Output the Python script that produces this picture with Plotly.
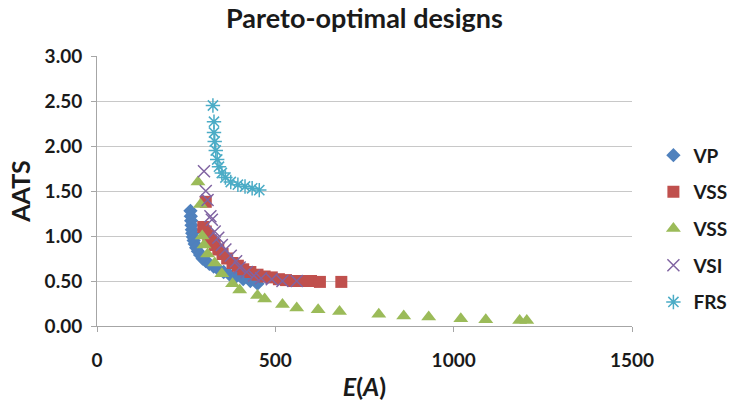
import plotly.graph_objects as go

vp_x = [262, 263, 264, 265, 266, 267, 269, 271, 274, 278, 283, 289, 296, 305, 315, 327, 340, 355, 372, 390, 410, 430, 450]
vp_y = [1.28, 1.22, 1.17, 1.12, 1.07, 1.03, 0.99, 0.95, 0.91, 0.87, 0.83, 0.79, 0.75, 0.72, 0.69, 0.66, 0.63, 0.60, 0.57, 0.55, 0.52, 0.50, 0.47]

vss_x = [305, 298, 305, 312, 320, 330, 340, 352, 365, 380, 395, 410, 430, 450, 470, 490, 510, 530, 550, 575, 600, 625, 685]
vss_y = [1.38, 1.10, 1.05, 1.00, 0.95, 0.90, 0.85, 0.80, 0.75, 0.70, 0.67, 0.63, 0.60, 0.57, 0.55, 0.54, 0.52, 0.51, 0.50, 0.50, 0.50, 0.49, 0.49]

vss2_x = [283, 290, 295, 300, 310, 330, 350, 380, 400, 450, 470, 520, 560, 620, 680, 790, 860, 930, 1020, 1090, 1185, 1205]
vss2_y = [1.60, 1.35, 1.00, 0.90, 0.80, 0.70, 0.58, 0.47, 0.40, 0.34, 0.30, 0.24, 0.20, 0.18, 0.16, 0.13, 0.11, 0.10, 0.08, 0.07, 0.06, 0.06]

vsi_x = [300, 305, 310, 318, 322, 330, 340, 350, 360, 375, 390, 400, 420, 440, 460, 490, 520, 560]
vsi_y = [1.72, 1.50, 1.40, 1.22, 1.18, 1.05, 0.98, 0.90, 0.85, 0.78, 0.72, 0.65, 0.60, 0.56, 0.53, 0.52, 0.50, 0.50]

frs_x = [325, 328, 328, 330, 333, 337, 342, 350, 360, 375, 395, 415, 435, 455]
frs_y = [2.45, 2.27, 2.15, 2.05, 1.95, 1.85, 1.77, 1.70, 1.65, 1.60, 1.57, 1.55, 1.53, 1.51]

x_ticks = [0, 500, 1000, 1500]
y_ticks = [0, 0.5, 1.0, 1.5, 2.0, 2.5, 3.0]

FONT = "Lato"
TXT = "#1a1a1a"

fig = go.Figure()
series = [
    ("VP", vp_x, vp_y, "diamond", "#4F81BD", 11, 0),
    ("VSS", vss_x, vss_y, "square", "#C0504D", 12, 0),
    ("VSS", vss2_x, vss2_y, "triangle-up", "#9BBB59", 13, 0),
    ("VSI", vsi_x, vsi_y, "x-thin-open", "#8064A2", 12, 1.5),
    ("FRS", frs_x, frs_y, "asterisk-open", "#4BACC6", 12, 1.5),
]
for i, (name, xs, ys, sym, col, size, lw) in enumerate(series):
    marker = dict(symbol=sym, color=col, size=size)
    if lw:
        marker["line"] = dict(color=col, width=lw)
    else:
        marker["line"] = dict(width=0)
    fig.add_trace(go.Scatter(x=xs, y=ys, mode="markers", name=name, marker=marker,
                             legendgroup=str(i)))

fig.update_layout(
    width=740, height=404,
    margin=dict(l=97, r=108, t=56, b=78, autoexpand=False),
    paper_bgcolor="white", plot_bgcolor="white",
    font=dict(family=FONT, color=TXT),
    title=dict(text="<b>Pareto-optimal designs</b>", x=(97 + 632) / 2 / 740, xanchor="center",
               y=1 - 19 / 404, yanchor="middle", font=dict(size=27, color=TXT)),
    legend=dict(x=1.04, y=0.36, yanchor="middle", xanchor="left",
                font=dict(size=19, color=TXT, weight="bold"),
                tracegroupgap=9, itemwidth=30),
    showlegend=True,
)
fig.update_xaxes(range=[0, 1500], tickvals=x_ticks, showgrid=False, zeroline=False,
                 showline=True, linecolor="#A6A6A6", ticks="outside", ticklen=5,
                 tickcolor="#A6A6A6", automargin=False, ticklabelstandoff=12,
                 tickfont=dict(size=19, weight="bold"),
                 title=dict(text="<b><i>E</i>(<i>A</i>)</b>", font=dict(size=25), standoff=8))
fig.update_yaxes(range=[0, 3], tickvals=y_ticks, tickformat=".2f", showgrid=True,
                 gridcolor="#C8C8C8", gridwidth=1.2, zeroline=False,
                 showline=True, linecolor="#A6A6A6", ticks="outside", ticklen=5,
                 tickcolor="#A6A6A6", automargin=False, ticklabelstandoff=5,
                 tickfont=dict(size=19, weight="bold"),
                 title=dict(text="<b>AATS</b>", font=dict(size=25), standoff=6))

fig.write_html("out.html", post_script="document.body.style.margin='0';",
               config={"displayModeBar": False})
